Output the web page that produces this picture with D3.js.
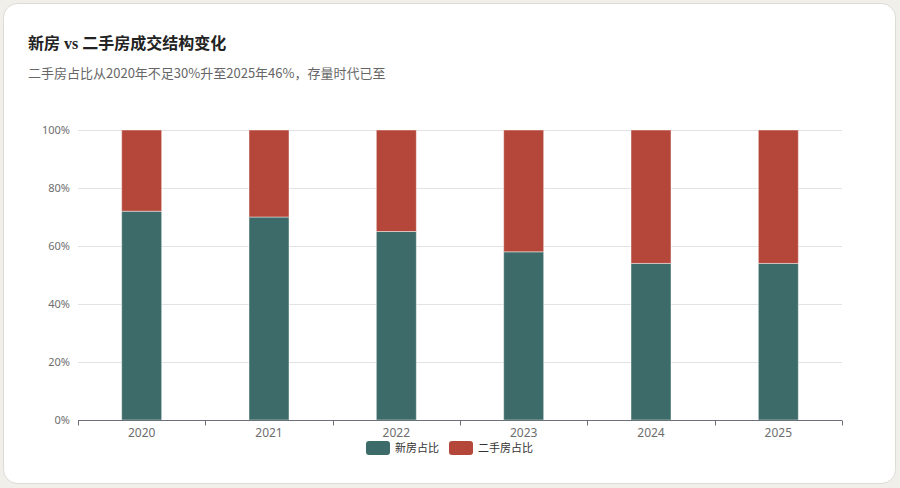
<!DOCTYPE html>
<html><head><meta charset="utf-8">
<script src="https://cdn.jsdelivr.net/npm/d3@7/dist/d3.min.js"></script>
<style>
html,body{margin:0;padding:0;background:#f0efea;}
svg{display:block;}
</style></head>
<body>
<svg id="c" width="900" height="488"></svg>
<script>
const years = ["2020","2021","2022","2023","2024","2025"];
const newShare = [72, 70, 65, 58, 54, 54];
const secondShare = [28, 30, 35, 42, 46, 46];
const yTicks = [0, 20, 40, 60, 80, 100];
const seriesNames = ["新房占比", "二手房占比"];
const colors = ["#3d6b69", "#b5473a"];

const svg = d3.select("#c");
svg.append("rect").attr("x",3.5).attr("y",3.5).attr("width",892).attr("height",480)
  .attr("rx",14).attr("fill","#fff").attr("stroke","#dcdbd6");

svg.append("text").attr("x",28).attr("y",49).text("新房 vs 二手房成交结构变化")
  .attr("font-family","'Liberation Serif','Noto Sans CJK SC',serif").attr("font-weight","bold")
  .attr("font-size",16).attr("fill","#222");
svg.append("text").attr("x",28).attr("y",78).text("二手房占比从2020年不足30%升至2025年46%，存量时代已至")
  .attr("font-family","'Noto Sans CJK SC',sans-serif").attr("font-size",13).attr("fill","#666");

const L=78, R=842, T=130, B=420;
const x = d3.scaleBand().domain(years).range([L,R]);
const y = d3.scaleLinear().domain([0,100]).range([B,T]);
const font = "'Noto Sans','Noto Sans CJK SC',sans-serif";

const g = svg.append("g");
g.selectAll(".grid").data(yTicks.filter(d=>d>0)).enter().append("line")
  .attr("x1",L).attr("x2",R).attr("y1",d=>y(d)+0.5).attr("y2",d=>y(d)+0.5)
  .attr("stroke","#e3e3e3");
g.selectAll(".yl").data(yTicks).enter().append("text")
  .attr("x",L-8).attr("y",d=>y(d)+4).attr("text-anchor","end")
  .attr("font-family",font).attr("font-size",11).attr("fill","#6e6e6e").text(d=>d+"%");

const bw = 40;
const stackData = years.map((yr,i)=>({year:yr, a:newShare[i], b:secondShare[i]}));
const stack = d3.stack().keys(["a","b"])(stackData);
stack.forEach((s,si)=>{
  g.selectAll(".bar"+si).data(s).enter().append("rect")
    .attr("x",d=>x(d.data.year)+x.bandwidth()/2-bw/2)
    .attr("width",bw)
    .attr("y",d=>y(d[1]))
    .attr("height",d=>y(d[0])-y(d[1]))
    .attr("fill",colors[si])
    .attr("stroke","rgba(255,255,255,0.45)").attr("stroke-width",1);
});

const xa = svg.append("g").attr("transform",`translate(0,${B+0.5})`);
xa.append("line").attr("x1",L).attr("x2",R).attr("stroke","#6e7079");
const edges = years.map(d=>x(d)).concat([R]);
xa.selectAll(".tk").data(edges).enter().append("line")
  .attr("x1",d=>Math.round(d)+0.5).attr("x2",d=>Math.round(d)+0.5).attr("y1",0).attr("y2",5).attr("stroke","#6e7079");
xa.selectAll(".xl").data(years).enter().append("text")
  .attr("x",d=>x(d)+x.bandwidth()/2).attr("y",16).attr("text-anchor","middle")
  .attr("font-family",font).attr("font-size",12).attr("fill","#6e6e6e").text(d=>d);

const lg = svg.append("g");
const items = [{x:366,name:seriesNames[0],c:colors[0]},{x:449,name:seriesNames[1],c:colors[1]}];
items.forEach(it=>{
  lg.append("rect").attr("x",it.x).attr("y",441).attr("width",24).attr("height",14).attr("rx",3).attr("fill",it.c);
  lg.append("text").attr("x",it.x+29).attr("y",452).text(it.name)
    .attr("font-family","'Noto Sans CJK SC',sans-serif").attr("font-size",11).attr("fill","#333");
});
</script>
</body></html>
